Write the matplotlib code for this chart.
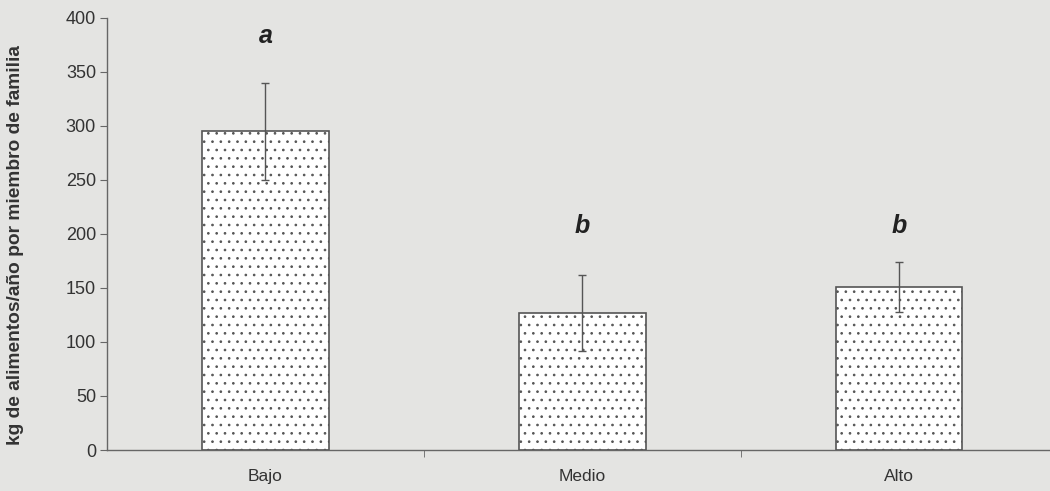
# plotting kg de alimentos per family member by group
import numpy as np
import matplotlib.pyplot as plt

# data
categorias = ["Bajo", "Medio", "Alto"]
valores    = [295, 127, 151]
errores    = [45, 35, 23]
letras     = ["a", "b", "b"]
letra_y    = [383, 207, 207]
yticks     = [0, 50, 100, 150, 200, 250, 300, 350, 400]

plt.rcParams['font.family'] = ['Liberation Sans', 'DejaVu Sans']
plt.rcParams['hatch.color'] = '#3a3a3a'
plt.rcParams['hatch.linewidth'] = 0.7

fondo = '#e4e4e2'
fig = plt.figure(figsize=(10.5, 4.91), dpi=100, facecolor=fondo)
ax = fig.add_axes([0.102, 0.0835, 0.905, 0.88])
ax.set_facecolor(fondo)

x = np.arange(len(categorias))
ax.bar(x, valores, width=0.4, color='white', edgecolor='#555555',
       linewidth=1.2, hatch='..', zorder=2)
ax.errorbar(x, valores, yerr=errores, fmt='none', ecolor='#555555',
            elinewidth=1.0, capsize=3, capthick=1.0, zorder=3)

for xi, l, ly in zip(x, letras, letra_y):
    ax.text(xi, ly, l, ha='center', va='center', fontsize=18,
            fontweight='bold', fontstyle='italic', color='#222222')

# axes
ax.set_xlim(-0.5, 2.5)
ax.set_ylim(0, 400)
ax.set_yticks(yticks)
ax.set_xticks(x)
ax.set_xticklabels(categorias, fontsize=12.5)
ax.set_xticks([0.5, 1.5, 2.5], minor=True)
ax.tick_params(axis='x', which='major', length=0, pad=14)
ax.tick_params(axis='x', which='minor', length=5, color='#666666')
ax.tick_params(axis='y', labelsize=13, length=5, color='#666666',
               labelcolor='#333333', pad=3)
for lbl in ax.get_xticklabels():
    lbl.set_color('#333333')
for s in ['top', 'right']:
    ax.spines[s].set_visible(False)
for s in ['left', 'bottom']:
    ax.spines[s].set_color('#666666')
    ax.spines[s].set_linewidth(1.0)

ax.set_ylabel('kg de alimentos/año por miembro de familia', fontsize=13.8,
              fontweight='bold', color='#333333')
ax.yaxis.set_label_coords(-0.087, 0.475)

plt.savefig('out.png', dpi=100, facecolor=fondo)
